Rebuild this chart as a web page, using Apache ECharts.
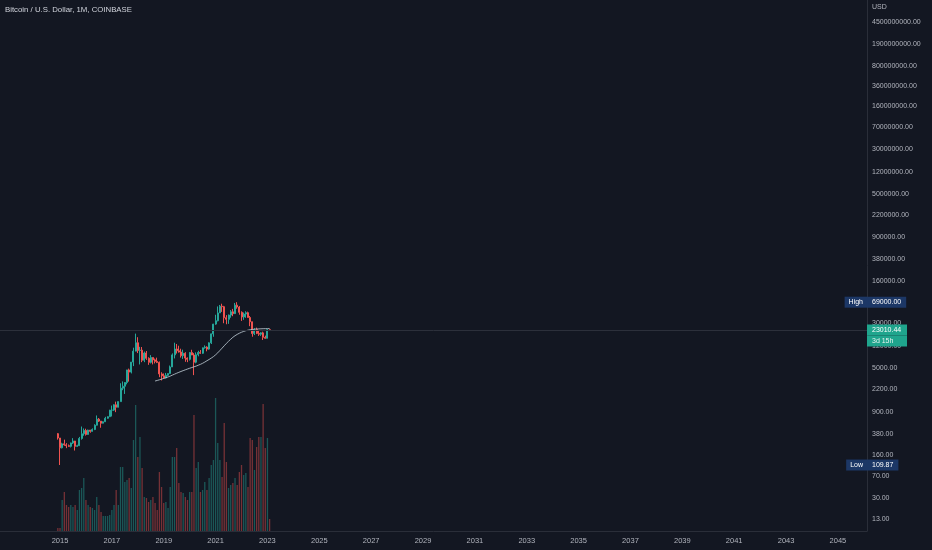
<!DOCTYPE html>
<html>
<head>
<meta charset="utf-8">
<script src="https://cdn.jsdelivr.net/npm/echarts@6/dist/echarts.min.js"></script>
<style>
html,body{margin:0;padding:0;background:#131722;}
#chart{width:932px;height:550px;}
</style>
</head>
<body>
<div id="chart"></div>
<script>
const months = [
 '2014-12',
 '2015-01','2015-02','2015-03','2015-04','2015-05','2015-06','2015-07','2015-08','2015-09','2015-10','2015-11','2015-12',
 '2016-01','2016-02','2016-03','2016-04','2016-05','2016-06','2016-07','2016-08','2016-09','2016-10','2016-11','2016-12',
 '2017-01','2017-02','2017-03','2017-04','2017-05','2017-06','2017-07','2017-08','2017-09','2017-10','2017-11','2017-12',
 '2018-01','2018-02','2018-03','2018-04','2018-05','2018-06','2018-07','2018-08','2018-09','2018-10','2018-11','2018-12',
 '2019-01','2019-02','2019-03','2019-04','2019-05','2019-06','2019-07','2019-08','2019-09','2019-10','2019-11','2019-12',
 '2020-01','2020-02','2020-03','2020-04','2020-05','2020-06','2020-07','2020-08','2020-09','2020-10','2020-11','2020-12',
 '2021-01','2021-02','2021-03','2021-04','2021-05','2021-06','2021-07','2021-08','2021-09','2021-10','2021-11','2021-12',
 '2022-01','2022-02','2022-03','2022-04','2022-05','2022-06','2022-07','2022-08','2022-09','2022-10','2022-11','2022-12',
 '2023-01','2023-02'
];
const opens = [380,
 320,217,254,244,236,230,263,284,230,236,314,378,
 431,368,437,416,448,531,673,624,574,608,698,743,
 963,965,1190,1080,1350,2300,2480,2870,4730,4340,6450,9950,
 13860,10220,10330,6930,9240,7490,6390,7730,7030,6630,6370,4040,
 3740,3440,3820,4100,5320,8570,10820,10080,9600,8290,9150,7550,
 7190,9390,8530,6420,8630,9450,9140,11350,11660,10780,13800,19700,
 28990,33110,45140,58790,57720,37300,35040,41460,47130,43830,61300,56950,
 46210,38470,43160,45530,37640,31800,19940,23300,20050,19430,20490,17170,
 16540,23130];
const highs = [390,
 320,265,300,261,247,267,318,285,245,334,504,467,
 462,445,440,468,550,780,705,627,620,740,755,975,
 1155,1210,1350,1350,2790,3000,2920,4750,4980,6470,11400,19890,
 17250,11800,11700,9770,10000,7780,8500,7760,7410,7680,6600,4310,
 4110,4200,4120,5620,9090,13880,13200,12330,10950,10540,9520,7750,
 9580,10500,9190,9470,10080,10390,11450,12480,12060,14100,19900,29300,
 41950,58350,61790,64900,59600,41300,42320,50500,52920,67000,69000,59100,
 47990,45800,48190,47450,40000,31960,24670,25200,22800,20990,21480,18390,
 23960,23470];
const lows = [300,
 109.87,212,236,214,225,220,253,195,225,235,300,350,
 352,366,394,412,437,525,603,480,570,605,686,740,
 750,932,890,1075,1350,2120,1830,2670,2980,4120,5500,9900,
 9200,5870,6430,6430,7030,5780,6110,5880,6120,6200,3550,3120,
 3350,3390,3710,4080,5320,7450,9050,9400,7710,7300,6520,6430,
 6860,8500,3850,6150,8100,8900,8930,10970,9880,10530,13200,17570,
 28130,32300,44950,47000,30000,28800,29280,37330,39600,43280,53250,42000,
 32930,34300,37160,37580,26700,17590,18780,19520,18150,18200,15480,16260,
 16500,22700];
const closes = [320,
 217,254,244,236,230,263,284,230,236,314,378,431,
 368,437,416,448,531,673,624,574,608,698,743,963,
 965,1190,1080,1350,2300,2480,2870,4730,4340,6450,9950,13860,
 10220,10330,6930,9240,7490,6390,7730,7030,6630,6370,4040,3740,
 3440,3820,4100,5320,8570,10820,10080,9600,8290,9150,7550,7190,
 9390,8530,6420,8630,9450,9140,11350,11660,10780,13800,19700,28990,
 33110,45140,58790,57720,37300,35040,41460,47130,43830,61300,56950,46210,
 38470,43160,45530,37640,31800,19940,23300,20050,19430,20490,17170,16540,
 23130,23010.44];
// monthly volume (BTC)
const volumes = [30000,
 30000,310000,390000,260000,240000,260000,240000,260000,210000,410000,430000,530000,
 310000,260000,240000,230000,210000,340000,260000,190000,150000,150000,150000,160000,
 210000,260000,410000,260000,640000,640000,490000,510000,530000,430000,910000,1260000,
 740000,940000,630000,340000,330000,290000,310000,340000,280000,210000,590000,440000,
 280000,290000,230000,440000,740000,740000,830000,480000,390000,380000,340000,310000,
 390000,390000,1160000,630000,690000,390000,410000,490000,410000,530000,660000,710000,
 1330000,880000,710000,540000,1080000,690000,430000,460000,480000,530000,460000,590000,
 660000,560000,580000,440000,930000,910000,610000,840000,940000,940000,1270000,830000,
 930000,120000];
// moving average (200-week, shown on monthly bars) from 2018-09
const maStart = 45;
const maValues = [3050,3120,3200,3280,
 3380,3480,3580,3700,3850,4000,4150,4300,4450,4600,4750,4900,
 5050,5200,5350,5500,5700,5900,6150,6450,6800,7150,7550,8000,
 8600,9300,10200,11200,12300,13500,14700,15900,17200,18300,19300,20200,
 21000,21700,22300,22800,23200,23500,23700,23850,23950,24050,24150,24200,
 24250,24300];
const yearTicks = [2015,2017,2019,2021,2023,2025,2027,2029,2031,2033,2035,2037,2039,2041,2043,2045];
const priceTicks = [13,30,70,160,380,900,2200,5000,12000,30000,70000,160000,380000,900000,2200000,5000000,12000000,30000000,70000000,160000000,360000000,800000000,1900000000,4500000000];
const lastPrice = 23010.44;
const highPrice = 69000;
const lowPrice = 109.87;
const countdown = '3d 15h';

// month string -> position on the year axis (Jan of a year = that year)
const toYear = m => { const p = m.split('-'); return +p[0] + (+p[1] - 1) / 12; };
const UP = '#26a69a', DOWN = '#ef5350';
const candleData = months.map((m, i) => [toYear(m), opens[i], closes[i], lows[i], highs[i]]);
const volData = months.map((m, i) => ({
  value: [toYear(m), volumes[i]],
  itemStyle: { color: closes[i] >= opens[i] ? 'rgba(38,166,154,0.45)' : 'rgba(239,83,80,0.45)' }
}));
const maData = maValues.map((v, i) => [toYear(months[maStart + i]), v]);

const NAVY = '#1c3766';
const hidden = { color: 'rgba(0,0,0,0)', width: 1 };
const tagLabel = (text, pos, pad) => ({
  show: true, position: pos, distance: 0, formatter: text,
  color: '#ffffff', fontSize: 7, backgroundColor: NAVY, padding: pad
});

const chart = echarts.init(document.getElementById('chart'), null, {renderer: 'canvas'});
const xMin = 2012.686, xMax = 2046.122;
const option = {
  backgroundColor: '#131722',
  animation: false,
  textStyle: { fontFamily: 'Liberation Sans, Arial, sans-serif' },
  title: [
    { text: 'Bitcoin / U.S. Dollar, 1M, COINBASE', left: 5, top: 6, padding: 0,
      textStyle: { color: '#d1d4dc', fontSize: 7.8, fontWeight: 'normal' } },
    { text: 'USD', left: 872, top: 4, padding: 0,
      textStyle: { color: '#b2b5be', fontSize: 7, fontWeight: 'normal' } }
  ],
  grid: [
    { left: 0, right: 65, top: 0, bottom: 19 },
    { left: 0, right: 65, top: 371, bottom: 19 }
  ],
  xAxis: [
    { type: 'value', gridIndex: 0, min: xMin, max: xMax,
      axisLine: { show: true, lineStyle: { color: '#2a2e39' } },
      axisTick: { show: false },
      splitLine: { show: false },
      axisLabel: { customValues: yearTicks, color: '#b2b5be', fontSize: 7.5, margin: 6,
        formatter: v => String(Math.round(v)) } },
    { type: 'value', gridIndex: 1, min: xMin, max: xMax, show: false, splitLine: { show: false } }
  ],
  yAxis: [
    { type: 'log', gridIndex: 0, position: 'right', min: 8.075, max: 1.074e10,
      axisLine: { show: true, lineStyle: { color: '#2a2e39' } },
      axisTick: { show: false },
      splitLine: { show: false },
      axisLabel: { customValues: priceTicks, color: '#b2b5be', fontSize: 7, margin: 5,
        formatter: v => Number(v).toFixed(2) } },
    { type: 'value', gridIndex: 1, min: 0, max: 1600000, show: false, splitLine: { show: false } }
  ],
  series: [
    { type: 'bar', xAxisIndex: 1, yAxisIndex: 1, data: volData, barWidth: 1.3, z: 1 },
    { type: 'candlestick', xAxisIndex: 0, yAxisIndex: 0, data: candleData, barWidth: 1.5, z: 3,
      encode: { x: 0, y: [1, 2, 3, 4] },
      itemStyle: { color: UP, color0: DOWN, borderColor: UP, borderColor0: DOWN, borderWidth: 1 },
      markLine: {
        symbol: 'none', silent: true, animation: false,
        data: [
          { yAxis: lastPrice,
            lineStyle: { color: '#2c303b', width: 1, type: 'solid' },
            label: { show: true, position: 'end', distance: 0,
              formatter: '{e|}\n{a|' + lastPrice.toFixed(2) + '}\n{b|' + countdown + '}',
              rich: {
                e: { height: 11, lineHeight: 11 },
                a: { color: '#ffffff', fontSize: 7, height: 11, lineHeight: 11, width: 30, padding: [0, 5, 0, 5], backgroundColor: '#1fa58d' },
                b: { color: '#e6f4f1', fontSize: 7, height: 11, lineHeight: 11, width: 30, padding: [0, 5, 0, 5], backgroundColor: '#1fa58d' }
              } } },
          { yAxis: highPrice, lineStyle: hidden, label: tagLabel('High', 'insideEnd', [2, 4, 2, 4]) },
          { yAxis: highPrice, lineStyle: hidden, label: tagLabel(highPrice.toFixed(2), 'end', [2, 5, 2, 5]) },
          { yAxis: lowPrice, lineStyle: hidden, label: tagLabel('Low', 'insideEnd', [2, 4, 2, 4]) },
          { yAxis: lowPrice, lineStyle: hidden, label: tagLabel(lowPrice.toFixed(2), 'end', [2, 5, 2, 5]) }
        ]
      } },
    { type: 'line', xAxisIndex: 0, yAxisIndex: 0, data: maData, showSymbol: false, symbol: 'none', z: 4,
      lineStyle: { color: '#b9c6cf', width: 1, opacity: 0.85 } }
  ]
};
chart.setOption(option);
</script>
</body>
</html>
